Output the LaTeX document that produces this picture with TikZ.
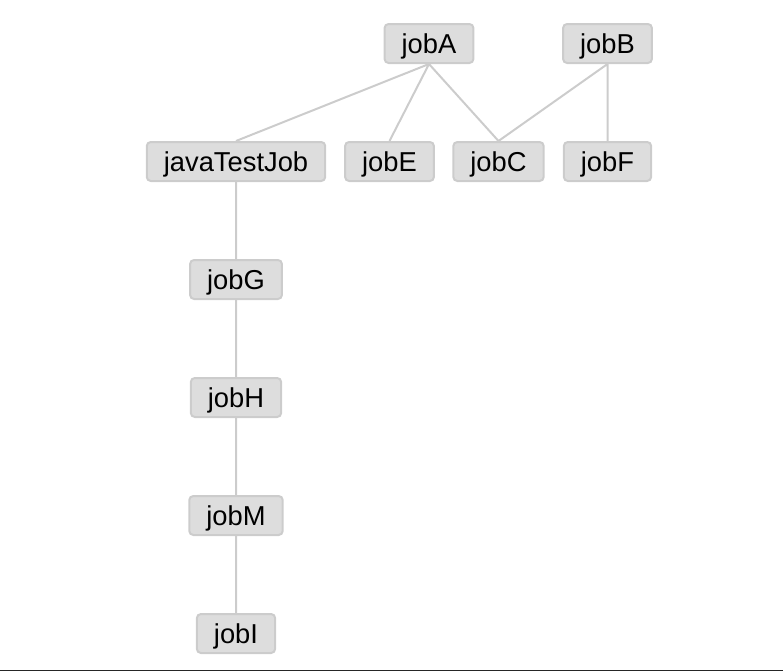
\documentclass[tikz,border=0pt]{standalone}
\usepackage{fontspec}
\setmainfont{Liberation Sans}
\usetikzlibrary{positioning}
\definecolor{jobfill}{HTML}{DDDDDD}
\definecolor{jobline}{HTML}{CCCCCC}
\tikzset{jobbox/.style={draw=jobline,
      fill=jobfill,
      line width=1.5pt,
      rounded corners=3pt,
      font=\fontsize{20.5pt}{24pt}\selectfont,
      text height=14.7pt,
      text depth=0pt,
      inner xsep=12.8pt,
      inner ysep=0pt,
      minimum height=29.25pt}}

\begin{document}
\begin{tikzpicture}[x=0.75pt,y=-0.75pt,
      node distance=88.5pt,
      on grid,
      line width=1.5pt]

    \useasboundingbox (0,0) rectangle (783,671);

    \node[jobbox]
      (jobA) at (429,43.5) {jobA};
    \node[jobbox]
      (jobB) at (607.5,43.5) {jobB};
    \node[jobbox]
      (javaTestJob) at (236,161.5) {javaTestJob};
    \node[jobbox]
      (jobE) at (389.5,161.5) {jobE};
    \node[jobbox]
      (jobC) at (498.5,161.5) {jobC};
    \node[jobbox]
      (jobF) [below=of jobB] {jobF};
    \node[jobbox]
      (jobG) [below=of javaTestJob] {jobG};
    \node[jobbox]
      (jobH) [below=of jobG] {jobH};
    \node[jobbox]
      (jobM) [below=of jobH] {jobM};
    \node[jobbox]
      (jobI) [below=of jobM] {jobI};

    \path[draw=jobline]
      (jobA.south) -- (javaTestJob.north)
      (jobA.south) -- (jobE.north)
      (jobA.south) -- (jobC.north)
      (jobB.south) -- (jobC.north)
      (jobB.south) -- (jobF.north)
      (javaTestJob.south) -- (jobG.north)
      (jobG.south) -- (jobH.north)
      (jobH.south) -- (jobM.north)
      (jobM.south) -- (jobI.north);

    % bottom rule
    \draw[line width=0.75pt,black!85] (0,670) -- (783,670);

  \end{tikzpicture}
\end{document}
